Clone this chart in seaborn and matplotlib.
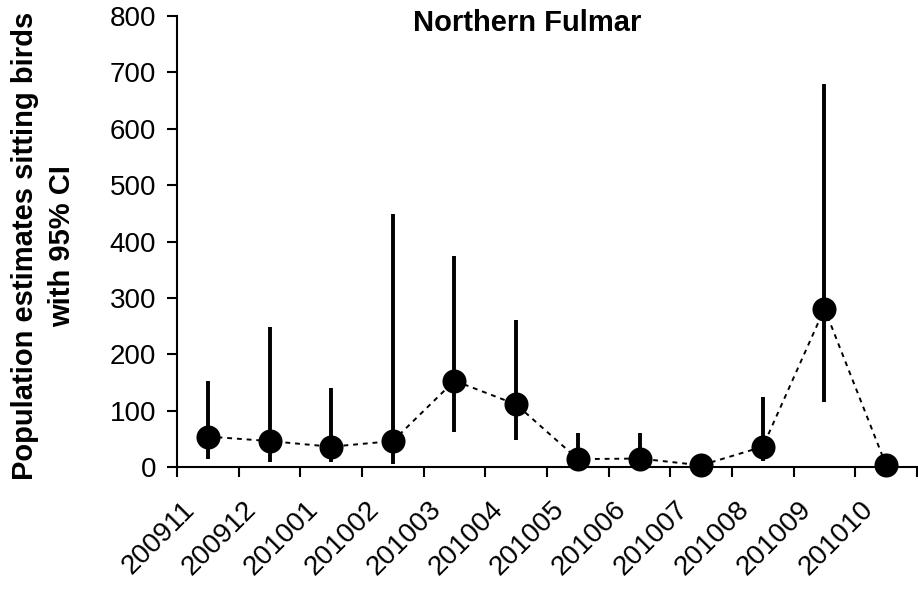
import matplotlib
matplotlib.use("Agg")
import matplotlib.pyplot as plt
import matplotlib.transforms as mtransforms
import seaborn as sns
import pandas as pd
import numpy as np

# Monthly population estimates of sitting Northern Fulmars with 95% CI
months = ["200911", "200912", "201001", "201002", "201003", "201004",
          "201005", "201006", "201007", "201008", "201009", "201010"]
estimate = [54, 46, 36, 46, 153, 111, 14, 15, 3, 36, 281, 3]
ci_lower = [15, 8, 8, 5, 62, 48, 3, 3, 1, 10, 116, 1]
ci_upper = [153, 249, 140, 448, 374, 260, 61, 61, 6, 125, 679, 6]

sns.set_theme(style="white")
plt.rcParams["font.family"] = ["Liberation Sans", "DejaVu Sans"]
plt.rcParams["text.color"] = "black"
plt.rcParams["xtick.color"] = "black"
plt.rcParams["ytick.color"] = "black"

df = pd.DataFrame({"pos": np.arange(len(months)), "month": months,
                   "est": estimate, "lo": ci_lower, "hi": ci_upper})

fig = plt.figure(figsize=(9.18, 5.89), dpi=100)
ax = fig.add_axes([177 / 918, 1 - 467 / 589, 740 / 918, 451 / 589])

# confidence intervals
ax.vlines(df["pos"], df["lo"], df["hi"], color="black", linewidth=2.8, zorder=2)

# connecting dashed line
sns.lineplot(data=df, x="pos", y="est", ax=ax, color="black", linewidth=1.4,
             linestyle=(0, (2.5, 2.5)), zorder=1)
# point estimates
sns.scatterplot(data=df, x="pos", y="est", ax=ax, color="black", s=300,
                edgecolor="black", linewidth=0, zorder=3, clip_on=False)

ax.set_xlim(-0.5, len(months) - 0.5)
ax.set_ylim(0, 800)
ax.set_yticks(range(0, 801, 100))
ax.set_xticks(df["pos"])
ax.set_xticklabels(months, rotation=45, ha="right", fontsize=20)
ax.set_xticks(np.arange(-0.5, len(months)), minor=True)
ax.tick_params(axis="x", which="major", length=0, pad=21)
ax.tick_params(axis="x", which="minor", length=7, width=1.5, direction="out",
               color="black", bottom=True)
ax.tick_params(axis="y", length=7, width=1.5, direction="out", color="black",
               left=True, labelsize=20, pad=8)
ax.set_xlabel("")
ax.set_ylabel("")

# nudge the rotated month labels slightly left of the category centres
shift = mtransforms.ScaledTranslation(-8 / 100, 0, fig.dpi_scale_trans)
for lbl in ax.get_xticklabels():
    lbl.set_transform(lbl.get_transform() + shift)

for side in ["top", "right"]:
    ax.spines[side].set_visible(False)
for side in ["left", "bottom"]:
    ax.spines[side].set_color("black")
    ax.spines[side].set_linewidth(1.5)

fig.text(527 / 918, 1 - 9 / 589, "Northern Fulmar", ha="center", va="top",
         fontsize=21, fontweight="bold")
fig.text(11 / 918, 1 - 246 / 589, "Population estimates sitting birds\nwith 95% CI",
         rotation=90, ha="left", va="center", multialignment="center",
         fontsize=21, fontweight="bold", linespacing=1.4)

fig.savefig("out.png", dpi=100)
